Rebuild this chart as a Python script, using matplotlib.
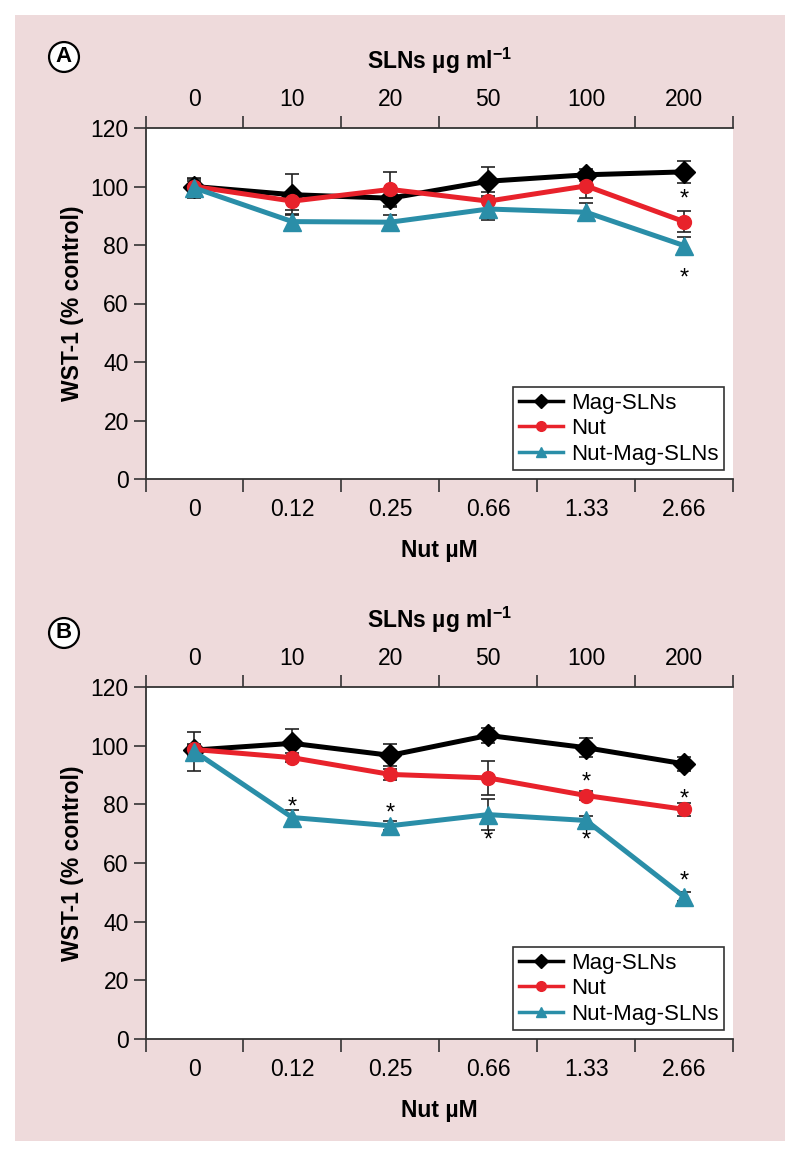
import matplotlib
matplotlib.use("Agg")
import matplotlib.pyplot as plt
from matplotlib.lines import Line2D
from matplotlib.patches import Rectangle

plt.rcParams['font.family'] = ['Liberation Sans', 'DejaVu Sans']
plt.rcParams['mathtext.fontset'] = 'custom'
plt.rcParams['mathtext.rm'] = 'Liberation Sans'
plt.rcParams['mathtext.bf'] = 'Liberation Sans:bold'

# ---------------- data ----------------
nut_labels = ['0', '0.12', '0.25', '0.66', '1.33', '2.66']
sln_labels = ['0', '10', '20', '50', '100', '200']
series_names = ['Mag-SLNs', 'Nut', 'Nut-Mag-SLNs']

mag_A = [100, 97.2, 96.0, 101.8, 104.0, 105.0]
mag_A_err = [2.5, 7.0, 2.5, 5.0, 2.0, 3.8]
nut_A = [100, 95.0, 99.0, 95.0, 100.2, 88.0]
nut_A_err = [2.0, 3.0, 6.0, 3.0, 4.0, 3.5]
nmag_A = [99.5, 88.0, 87.8, 92.3, 91.2, 79.8]
nmag_A_err = [3.3, 2.5, 2.3, 3.8, 3.0, 3.0]
stars_A_idx = [5, 5]
stars_A_val = [96.5, 69.5]

mag_B = [98.5, 100.8, 96.7, 103.5, 99.3, 93.8]
mag_B_err = [2.0, 5.0, 3.8, 2.6, 3.2, 2.3]
nut_B = [98.7, 95.9, 90.2, 89.0, 83.0, 78.3]
nut_B_err = [1.5, 1.5, 2.0, 5.8, 1.5, 2.3]
nmag_B = [98.0, 75.5, 72.7, 76.5, 74.5, 48.5]
nmag_B_err = [6.5, 2.5, 1.5, 5.2, 1.5, 1.5]
stars_B_idx = [1, 2, 3, 4, 4, 5, 5]
stars_B_val = [80.0, 78.0, 68.6, 88.3, 68.6, 82.8, 54.6]

colors = ['#000000', '#e8222b', '#2a8ea8']
markers = ['D', 'o', '^']
msizes = [11, 10, 13]

PINK = '#eedadb'
FS = 16.5

fig = plt.figure(figsize=(8.0, 11.56), dpi=100)
fig.patch.set_facecolor('white')
fig.patches.append(Rectangle((15/800, 1-1141/1156), 770/800, 1126/1156,
                             transform=fig.transFigure, facecolor=PINK,
                             edgecolor='none', zorder=-10))

def make_panel(rect, letter, letter_y, data, errs, star_idx, star_val, show_legend):
    ax = fig.add_axes(rect)
    ax.set_facecolor('white')
    xs = [i + 0.5 for i in range(len(nut_labels))]
    for k in range(3):
        ax.errorbar(xs, data[k], yerr=errs[k], fmt='none', ecolor='#222222',
                    elinewidth=1.2, capsize=5, capthick=1.2, zorder=2)
    for k in range(3):
        ax.plot(xs, data[k], color=colors[k], lw=3.6, marker=markers[k],
                markersize=msizes[k], zorder=3 + k * 0.1,
                markeredgecolor=colors[k])
    for i, v in zip(star_idx, star_val):
        ax.text(xs[i], v - 1.0, '*', ha='center', va='center', fontsize=17,
                color='black', zorder=5)
    ax.set_xlim(0, 6)
    ax.set_ylim(0, 120)
    ax.set_yticks(range(0, 121, 20))
    ax.set_xticks(range(0, 7))
    ax.set_xticklabels([])
    ax.set_xticks(xs, minor=True)
    ax.set_xticklabels(nut_labels, minor=True)
    ax.tick_params(axis='x', which='major', direction='out', length=9, width=1.2,
                   color='#333333')
    ax.tick_params(axis='x', which='minor', length=0, pad=14, labelsize=FS)
    ax.tick_params(axis='y', direction='out', length=9, width=1.2, pad=3,
                   labelsize=FS, color='#333333')
    for s in ['left', 'bottom', 'top']:
        ax.spines[s].set_linewidth(1.3)
        ax.spines[s].set_color('#333333')
    ax.spines['right'].set_visible(False)
    ax.set_xlabel('Nut µM', fontsize=FS, fontweight='bold', labelpad=13)
    ax.set_ylabel('WST-1 (% control)', fontsize=FS, fontweight='bold', labelpad=5)

    top = ax.secondary_xaxis('top')
    top.set_xticks(range(0, 7))
    top.set_xticklabels([])
    top.set_xticks(xs, minor=True)
    top.set_xticklabels(sln_labels, minor=True)
    top.tick_params(axis='x', which='major', direction='out', length=9, width=1.2,
                    color='#333333')
    top.tick_params(axis='x', which='minor', length=0, pad=12, labelsize=FS)
    top.spines['top'].set_visible(False)
    top.set_xlabel(r'SLNs µg ml$^{\mathbf{-1}}$', fontsize=FS, fontweight='bold',
                   labelpad=14)

    fig.text(64/800, 1 - letter_y/1156, letter, fontsize=16, fontweight='bold',
             ha='center', va='center',
             bbox=dict(boxstyle='circle,pad=0.2', fc='white', ec='black', lw=1.6))

    if show_legend:
        handles = [Line2D([], [], color=colors[k], lw=2.5, marker=markers[k],
                          markersize=7) for k in range(3)]
        leg = ax.legend(handles, series_names, loc='lower right', fontsize=16,
                        frameon=True, fancybox=False, edgecolor='black',
                        handlelength=2.0, handletextpad=0.35, borderpad=0.25,
                        labelspacing=0.2, borderaxespad=0.4)
        leg.get_frame().set_linewidth(1.2)
    return ax

axA = make_panel([145.5/800, 1 - 479/1156, 587.5/800, 351/1156], 'A', 57,
                 [mag_A, nut_A, nmag_A], [mag_A_err, nut_A_err, nmag_A_err],
                 stars_A_idx, stars_A_val, True)
axB = make_panel([145.5/800, 1 - 1039/1156, 587.5/800, 352/1156], 'B', 633,
                 [mag_B, nut_B, nmag_B], [mag_B_err, nut_B_err, nmag_B_err],
                 stars_B_idx, stars_B_val, True)

fig.savefig('out.png', dpi=100, facecolor=fig.get_facecolor())
